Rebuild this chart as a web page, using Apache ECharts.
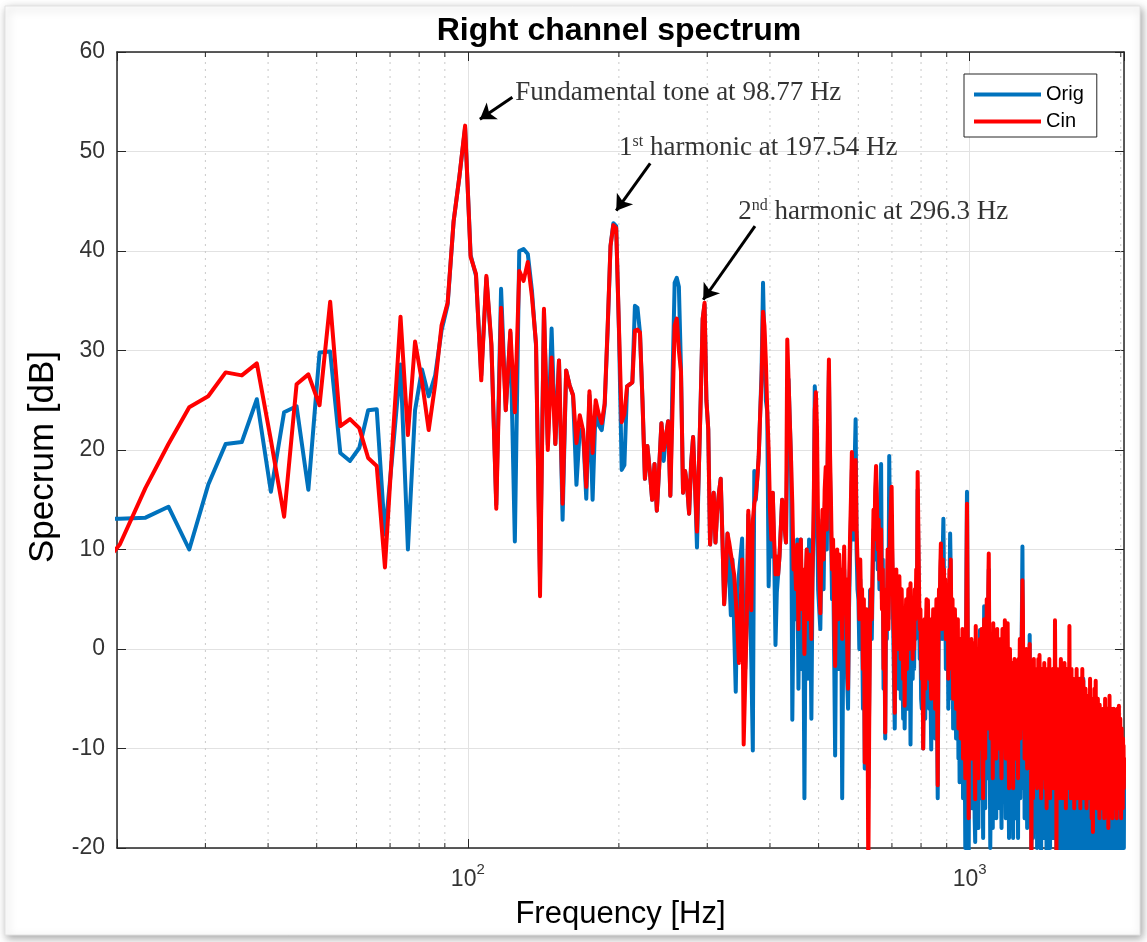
<!DOCTYPE html>
<html>
<head>
<meta charset="utf-8">
<script src="https://cdn.jsdelivr.net/npm/echarts@6/dist/echarts.min.js"></script>
<style>
  html, body { margin: 0; padding: 0; background: #ffffff; }
  #chart { width: 1147px; height: 942px; }
</style>
</head>
<body>
<div id="chart"></div>
<script>
// ---------- DATA ----------
// FFT bin spacing: fundamental 98.77 Hz sits on bin 39
const BIN_HZ = 98.77 / 39;
const FIRST_BIN = 7;

// Orig (blue), bins 7..177  (~18 Hz .. ~448 Hz)
const origLow = [
  13.0, 13.1, 13.2, 14.3, 10.0, 16.5, 20.6, 20.8, 25.1, 15.8,
  23.8, 24.4, 16.0, 29.8, 29.9, 19.7, 18.9, 20.2, 24.0, 24.1,
  11.5, 20.0, 28.6, 10.0, 24.0, 28.1, 25.4, 27.5, 32.0, 34.6,
  43.0, 47.5, 52.4, 39.6, 37.5, 27.5, 37.3, 30.5, 14.5, 36.2,
  24.0, 31.8, 10.8, 40.0, 40.2, 39.7, 36.0, 30.5, 7.0, 34.0,
  20.5, 32.2, 20.6, 29.0, 13.0, 28.0, 26.5, 25.5, 16.5, 22.0,
  22.0, 15.1, 25.5, 15.0, 24.5, 22.5, 22.0, 24.5, 32.0, 40.5,
  42.8, 42.5, 32.0, 18.0, 18.5, 26.4, 26.6, 26.8, 34.5, 34.3,
  31.8, 25.0, 17.1, 20.4, 17.9, 15.0, 18.6, 13.9, 18.2, 22.7,
  18.9, 21.4, 22.9, 15.4, 27.0, 36.8, 37.3, 36.4, 28.2, 15.7,
  17.9, 16.4, 13.6, 18.6, 21.3, 16.4, 10.2, 18.2, 25.4, 33.2,
  34.6, 25.0, 22.1, 10.5, 13.9, 15.7, 10.7, 13.9, 15.7, 17.1,
  11.1, 4.5, 7.5, 11.6, 11.4, 3.4, 9.0, 2.1, -4.3, 5.7,
  7.5, 9.3, 11.1, 1.0, -2.0, 3.5, 13.5, 5.7, -1.4, -10.2,
  17.9, 15.0, 17.1, 19.3, 23.6, 28.0, 36.8, 30.0, 25.0, 23.9,
  6.3, 12.9, 9.3, 15.7, 10.0, 0.4, 5.7, 7.5, 9.3, 12.1,
  15.0, 13.6, 12.1, 10.7, 20.0, 27.1, 22.9, 18.9, -7.1, 5.0,
  8.0
];
// Orig (blue), bins 178..802  (~450 Hz .. ~2030 Hz)
const origHigh = [
  3, 11, -4, 8, 11, -2, 6, -15, 4, 10, -3, 11, 5, -7, 7, 12, 26.4, 24, 15, 6,
  6, 2, 9, 13, 6, 14, 17, 10, 20, 28, 18, 12, 5, 9, 0, -10.7, 3, 9, -2, 7, 2, 6, -15, 0,
  8, 2, 5, -3, -6, 4, 9, 13, 18, 15, 11, 19, 23.1, 10, 6, 5, 0, 7, 1, 3, -6, 2, -12, -1, 3, -6,
  -14, -5, 5.9, 4, 1, 7, 12, 9, 15, 17, 14, 8, 12, 6, 8, 18.6, 5, 9, -4, 3, -9, 4, 1, 9, 3, 19.4, 11, 8, 12,
  8, 2, -3, -8, 1, 6, -1, 3, -4, 5, 0, -5, 4, -1, -7, 2, -8, -2, 3, -6,
  1, 4, -4, 2, -9.6, 0, 3, -3, 2, -2, 4, 1, 6, 3, 16, 10, 4, -1, 2, -5,
  -6, 0, -10, -3, 1, -7, 0, 3, -5, 2, -2, -6, 1, -5, -10.1, -1, -4, 2, -6, 1,
  -9, -2, 3, -7, -15, -3, 4, 1, 6, 9, 4, 1, 10, 13.1, 7, 1, 5, -2, 3,
  0, 4, -6, 2, 6, 11.6, 8, 1, -5, 3, -8, 0, -4, 2, -3, -9, 0, -6, 1, -11,
  -2, -13.4, -1, -12, -3, -9, 0, -15, -6, -2, -10, -20, -5, 8, 15.8, 3, -9, -22, -8, -3,
  -6, -12, -1, -16, -9, -2, -11, -5, -17, -19.4, -1, -8, -14, -3, -10, -18, -4, -12, 1.9, -9,
  -15, -1, -7, -12, -19, -5, 4.3, -10, -16, -3, -8, 2, -13, -6, 3, 8, -2, -11, -20, -14,
  -4, -12, -8, -18, 0, -10, -3, -15, -7, -4, -17, -11, -1, -13, -6,
  -10, -3, -16, -7, -2, -13, -18, -6, -1, -11, -15, -4, -9, 0, -12, -17, -5, -3, -11, -1,
  -8, -14, -19, -10, -4, -13, -7, -18, -9, -5, -12, -19, -8, -15, -6, -10, -17, -7, -5, -12,
  -16, -8, -19, -6, -13, -9, -3, -15, -10, -2, 0, 5, 10.3, 2, -8, -14, -6, -17, -11, -7,
  -15, -4, -12, -18, -8, -13, -5, -16, -9, 1.4,
  -9, -17, -7, -20, -18, -6, -15, -19, -10, -5, -14, -18, -8, -12, -17, -6, -11, -20, -9, -15,
  -5, -13, -18, -4, -10, -16, -8, -21, -12, -6, -17, -11, -19, -9, -13, -5, -15, -10, -19, -7,
  -14, -22, -11, -6, -17, -12, -18, -9, -5, -14, -20, -10, -13, -18, -7, -16, -11, -6, -19, -12,
  -9, -17, -14, -1, -8, -18, -11, -21, -13, -6, -16, -19, -10, -15, -8, -22, -12, -17, -9, -5,
  -13, -7, -18, -10, -21, -6, -15, -9, -19, -5, -12, -17, -8, -22, -14, -6, -16, -11, -20, -7,
  -15, -19, -10, -2, -13, -18, -9, -21, -12, -6, -17, -14, -9, -20, -8, -16, -11, -22, -13, -12,
  -17, -8, -19, -12, -6, -21, -14, -10, -18, -3, -13, -20, -11, -16, -7, -22, -12, -17, -9, -19,
  -14, -6, -18, -11, -3, -21, -13, -10, -17, -20, -12, -8, -19, -14, -22, -11, -16, -9, -18, -13,
  -21, -10, -17, -12, -20, -8, -15, -19, -11, -16, -23, -13, -18, -10, -21, -14, -20, -11, -17, -9,
  -16, -21, -12, -8, -19, -14, -23, -11, -17, -20, -10, -22, -15, -12, -18, -24, -11, -16, -21, -13,
  -10, -19, -23, -14, -17, -12, -22, -18, -11, -20, -15, -24, -13, -18, -9, -22, -16, -14, -23, -12,
  -19, -15, -10, -21, -17, -25, -13, -16, -22, -8, -14, -20, -12, -23, -16, -21, -10, -18, -15, -24,
  -13, -19, -22, -14, -11, -20, -17, -23, -13, -18, -12, -22, -15, -19, -24, -14, -16, -11, -21, -18,
  -23, -13, -10, -20, -15, -22, -17, -12, -21, -14, -24, -18, -13, -22, -15, -19, -23, -14, -17, -12,
  -20, -13
];

// Cin (red), bins 7..177
const cinLow = [
  7.0, 10.5, 16.2, 20.6, 24.3, 25.4, 27.8, 27.5, 28.7, 21.0,
  13.3, 26.6, 27.6, 24.5, 34.9, 22.4, 23.1, 22.2, 19.2, 18.4,
  8.2, 21.3, 33.4, 21.5, 30.9, 26.9, 22.0, 26.6, 32.5, 34.8,
  43.0, 47.5, 52.6, 39.4, 37.7, 27.0, 37.5, 30.7, 14.1, 34.3,
  24.0, 32.0, 23.8, 38.0, 37.0, 38.9, 35.4, 30.7, 5.3, 34.2,
  20.0, 29.3, 20.6, 29.0, 14.6, 28.0, 26.5, 25.5, 20.7, 23.5,
  22.0, 16.3, 25.9, 19.7, 25.0, 23.6, 22.7, 24.7, 32.3, 40.5,
  42.6, 42.3, 32.3, 22.8, 23.6, 26.4, 26.6, 26.8, 32.0, 32.1,
  31.8, 25.0, 17.1, 20.4, 17.9, 15.0, 18.6, 13.9, 18.2, 22.7,
  20.0, 21.4, 22.9, 15.4, 24.0, 32.5, 33.2, 30.0, 27.9, 15.7,
  17.9, 16.4, 13.6, 18.6, 21.3, 16.4, 11.8, 18.2, 25.4, 33.2,
  34.8, 25.0, 22.1, 10.5, 13.9, 15.7, 10.7, 13.9, 15.7, 17.1,
  11.1, 4.5, 7.5, 11.6, 10.7, 9.6, 9.6, 7.5, 5.0, 2.1,
  -1.4, 3.9, 9.0, -9.6, -3.2, 2.9, 13.9, 9.3, 3.9, 12.9,
  14.6, 15.4, 17.1, 19.3, 23.6, 27.0, 33.9, 32.5, 28.9, 23.9,
  20.0, 13.9, 11.0, 15.7, 11.0, 7.5, 9.3, 7.5, 9.3, 12.1,
  15.0, 13.6, 12.1, 10.7, 31.1, 27.1, 22.9, 18.9, 14.6, 8.0,
  10.0
];
// Cin (red), bins 178..802
const cinHigh = [
  6, 10.5, 2, 9, 11, 4, 8, -0.5, 7, 10, 3, 9.5, 6, 1, 8, 14, 24, 25.8, 22, 12,
  8, 3.6, 10, 14, 9, 16, 18.3, 12, 22, 29.1, 20, 14.6, 8, 11, 4, -1.7, 6, 10, 3, 9.5, 5, 8, 1, 6,
  10.3, 4, 7, 1, -4, 6, 11, 15, 19.8, 16, 12, 17, 19, 12, 9, 7.6, 3, 9, 4, 6, -2, 5, -11.4, 2, 4, -3,
  -23, -8, 2, 6, 3, 8.9, 14, 11, 16, 18.4, 15, 10, 13, 7, 9, 12, 4, 8, -2, 5, -8.4, 6, 3, 10, 2, 7, 12, 14, 16.3,
  10, 4, 1, -6.4, 3, 8, 2, 5, 0, 7.3, 3, -1, 6, 2, -3, 4, -5.7, 1, 5, -2,
  3, 6, 0, 4, 6.6, 2, 5, -1, 4, 0, 6, 3, 8, 5, 17.8, 12, 6, 2, 4, -1,
  -3, 2, -10, 0, 3, -4, 2, 5, -1, 4.9, 1, -3, 3, -2, -5, 2, 0, 4, -2, 3,
  -6, 1, 5, -4, -13.7, 0, 6, 3, 8, 10.6, 5, 2, 9, 6, 8, 3, 7, 1, 5,
  2, 6, -3, 4, 8, 1, 9, 3, -2, 5, -5, 2, -1, 4, -0.7, -6, 2, -3, 3, -8,
  0, -4, 1, -9, 0, -5, 2, -11, -3, 0, -7, -13, -2, 6, 14.6, 5, -6, -17, -4, 0,
  -3, -8, 1, -11, -5, 0.6, -7, -2, -12, -15.1, 2.3, -4, -9, 0, -6, -13, -1, -8, 1, -5,
  -10, 2, -3, -7, -15, -2, 3, -6, -11, 0, -4, 5, -8, -2, 6, 9.6, 1, -6, -3, -9,
  0, -7, -4, -13, 2.6, -5, 1, -9, -3, 0, -11, -6, 2, -8, -2,
  -6, 0, -10, -3, 1, -8, -13, -2, 2, -5, -9, 0, -4, 2.9, -7, -11, -1, 1, -6, 2.6,
  -3, -9, -14, -5, 0, -8, -2, -12, -4, -1.4, -7, -14, -3, -9, -1, -5, -11, -2, -1.4, -6,
  -10, -3, -13, -1, -7, -4, 1, -9, -5, 0, -2, 3, 6.9, 4, -3, -8, -1, -11, -5, -2,
  -9, 0, -6, -12, -3, -7, -1, -10, -4, 0.5,
  -5, -12, -3, -24, -8, -2, -10, -15, -4, -1, -9, -13, -3, -7, -11, -2, -6, -14, -4, -9,
  -1, -8, -12, -0.6, -5, -10, -3, -15, -7, -2, -11, -6, -13, -4, -8, -1.4, -10, -5, -14, -3,
  -9, -16, -6, -2, -11, -7, -13, -4, -1, -9, -15, -5, -8, -12, -3, -10, -6, -2, -14, -7,
  -4, -11, -9, 2.9, -3, -12, -6, -21, -8, -2, -10, -13, -5, -9, -3, -15, -7, -11, -4, -1,
  -8, -3, -12, -6, -15, -2, -9, -5, -13, -1.4, -7, -11, -4, -16, -8, -2, -10, -6, -14, -3,
  -9, -13, -5, 2.3, -8, -11, -4, -15, -7, -2, -12, -9, -5, -14, -3, -10, -6, -16, -8, -6.4,
  -11, -4, -13, -7, -2, -15, -9, -5, -12, -3.4, -8, -14, -6, -10, -3, -16, -7, -11, -4, -13,
  -9, -2, -12, -6, -3.2, -15, -8, -5, -11, -14, -7, -4, -13, -9, -16, -6, -10, -4.7, -12, -8,
  -15, -5, -11, -7, -14, -3, -9, -13, -6, -10, -17, -8, -12, -5, -18.4, -9, -14, -6, -11, -4,
  -10, -14, -7, -3.2, -12, -8, -16, -6, -11, -13, -5, -15, -9, -7, -12, -17, -5.6, -10, -14, -8,
  -6, -13, -16, -9, -11, -7, -15, -12, -6, -14, -10, -17, -8, -12, -5, -15, -11, -9, -16, -7,
  -13, -10, -6, -14, -12, -18, -8, -11, -15, -4.7, -9, -13, -7, -16, -11, -14, -6, -12, -10, -17,
  -8, -13, -15, -9, -6, -14, -11, -16, -8, -12, -7, -15, -10, -13, -17, -9, -11, -6, -14, -12,
  -16, -8, -5.7, -13, -10, -15, -11, -7, -14, -9, -17, -12, -8, -15, -10, -13, -16, -9, -12, -9.7,
  -14, -11
];

// Axes, ticks, annotations
const X_MIN = 20, X_MAX = 2030;
const Y_MIN = -20, Y_MAX = 60, Y_STEP = 10;
const xLabelExponents = [2, 3];
const minorFreqs = [30, 40, 50, 60, 70, 80, 90, 200, 300, 400, 500, 600, 700, 800, 900, 2000];
const annotationLabels = [
  'Fundamental tone at 98.77 Hz',
  '1{sup|st} harmonic at 197.54 Hz',
  '2{sup|nd} harmonic at 296.3 Hz'
];
const annotationAnchors = [[124.0, 55.9], [199.7, 50.35], [344.9, 43.9]];
const arrowTails = [[122.7, 55.45], [230.9, 48.8], [373.4, 42.5]];
const arrowHeads = [[105.7, 53.24], [197.6, 44.05], [294.5, 35.1]];

// ---------- BUILD ----------
const origDb = origLow.concat(origHigh);
const cinDb = cinLow.concat(cinHigh);
const toPairs = arr => arr.map((v, i) => [(FIRST_BIN + i) * BIN_HZ, v]);

const SANS = "'Liberation Sans', Arial, Helvetica, sans-serif";
const SERIF = "'Liberation Serif', 'Times New Roman', serif";
const AXIS_COLOR = '#262626';

const chart = echarts.init(document.getElementById('chart'), null, { renderer: 'canvas' });

const option = {
  animation: false,
  backgroundColor: '#ffffff',
  title: {
    text: 'Right channel spectrum',
    left: 614,
    top: 10,
    textAlign: 'center',
    textStyle: { fontFamily: SANS, fontWeight: 'bold', fontSize: 32, color: '#000' }
  },
  graphic: [{
    type: 'rect', z: -100, silent: true,
    shape: { x: 5, y: 6, width: 1135, height: 929 },
    style: { fill: '#fff', stroke: '#e2e2e2', lineWidth: 1, shadowBlur: 8, shadowOffsetX: 2, shadowOffsetY: 3, shadowColor: 'rgba(0,0,0,0.35)' }
  }],
  legend: {
    data: ['Orig', 'Cin'],
    orient: 'vertical',
    left: 964,
    top: 74,
    icon: 'rect',
    itemWidth: 67,
    itemHeight: 4,
    itemGap: 6,
    padding: [10, 13, 5, 10],
    borderColor: AXIS_COLOR,
    borderWidth: 1,
    backgroundColor: '#fff',
    selectedMode: false,
    textStyle: { fontFamily: SANS, fontSize: 20, color: '#000', lineHeight: 21 }
  },
  grid: { left: 117, right: 23, top: 52, bottom: 94, containLabel: false, outerBoundsMode: 'none' },
  xAxis: [{
    type: 'log', logBase: 10, min: X_MIN, max: X_MAX, position: 'bottom',
    name: 'Frequency [Hz]', nameLocation: 'middle', nameGap: 51,
    nameTextStyle: { fontFamily: SANS, fontSize: 31, color: '#000' },
    axisLine: { show: true, onZero: false, lineStyle: { color: AXIS_COLOR, width: 1.5 } },
    axisTick: { show: true, inside: true, length: 9, lineStyle: { color: AXIS_COLOR } },
    axisLabel: {
      margin: 14, color: '#333', fontFamily: SANS,
      formatter: function (v) {
        const l = Math.log10(v), r = Math.round(l);
        if (Math.abs(l - r) < 1e-6 && xLabelExponents.indexOf(r) >= 0) return '{b|10}{s|' + r + '}';
        return '';
      },
      rich: {
        b: { fontFamily: SANS, fontSize: 23, color: '#333', lineHeight: 29, verticalAlign: 'bottom' },
        s: { fontFamily: SANS, fontSize: 15, color: '#333', lineHeight: 29, verticalAlign: 'top' }
      }
    },
    splitLine: { show: true, lineStyle: { color: '#e2e2e2', width: 1 } },
    minorTick: { show: false }
  }, {
    type: 'log', logBase: 10, min: X_MIN, max: X_MAX, position: 'top',
    axisLine: { show: true, onZero: false, lineStyle: { color: AXIS_COLOR, width: 1.5 } },
    axisTick: { show: true, inside: true, length: 9, lineStyle: { color: AXIS_COLOR } },
    axisLabel: { show: false },
    splitLine: { show: false }
  }],
  yAxis: [{
    type: 'value', min: Y_MIN, max: Y_MAX, interval: Y_STEP, position: 'left',
    name: 'Specrum [dB]', nameLocation: 'middle', nameGap: 50,
    nameTextStyle: { fontFamily: SANS, fontSize: 35, color: '#000', padding: [0, 14, 0, 0] },
    axisLine: { show: true, onZero: false, lineStyle: { color: AXIS_COLOR, width: 1.5 } },
    axisTick: { show: true, inside: true, length: 9, lineStyle: { color: AXIS_COLOR } },
    axisLabel: { margin: 12, fontFamily: SANS, fontSize: 23, color: '#333' },
    splitLine: { show: true, lineStyle: { color: '#e2e2e2', width: 1 } }
  }, {
    type: 'value', min: Y_MIN, max: Y_MAX, interval: Y_STEP, position: 'right',
    axisLine: { show: true, onZero: false, lineStyle: { color: AXIS_COLOR, width: 1.5 } },
    axisTick: { show: true, inside: true, length: 9, lineStyle: { color: AXIS_COLOR } },
    axisLabel: { show: false },
    splitLine: { show: false }
  }],
  series: [
    {
      name: 'minor-grid', type: 'custom', xAxisIndex: 0, yAxisIndex: 0, z: 1, silent: true,
      data: minorFreqs.map(f => [f, 0]),
      renderItem: function (params, api) {
        const f = api.value(0);
        const top = api.coord([f, Y_MAX]);
        const bot = api.coord([f, Y_MIN]);
        return {
          type: 'group',
          children: [
            { type: 'line', shape: { x1: bot[0], y1: bot[1], x2: top[0], y2: top[1] },
              style: { stroke: '#c9c9c9', lineWidth: 1, lineDash: [2, 5] } },
            { type: 'line', shape: { x1: bot[0], y1: bot[1], x2: bot[0], y2: bot[1] - 5 },
              style: { stroke: AXIS_COLOR, lineWidth: 1 } },
            { type: 'line', shape: { x1: top[0], y1: top[1], x2: top[0], y2: top[1] + 5 },
              style: { stroke: AXIS_COLOR, lineWidth: 1 } }
          ]
        };
      }
    },
    {
      name: 'Orig', type: 'line', xAxisIndex: 0, yAxisIndex: 0, z: 3,
      data: toPairs(origDb), symbol: 'none', showSymbol: false, clip: true,
      itemStyle: { color: '#0072BD' },
      lineStyle: { color: '#0072BD', width: 4, join: 'round', cap: 'round' },
      emphasis: { disabled: true }
    },
    {
      name: 'Cin', type: 'line', xAxisIndex: 0, yAxisIndex: 0, z: 4,
      data: toPairs(cinDb), symbol: 'none', showSymbol: false, clip: true,
      itemStyle: { color: '#FF0000' },
      lineStyle: { color: '#FF0000', width: 4, join: 'round', cap: 'round' },
      emphasis: { disabled: true }
    },
    {
      name: 'annotations', type: 'scatter', xAxisIndex: 0, yAxisIndex: 0, z: 6, silent: true,
      symbolSize: 1, itemStyle: { color: 'rgba(0,0,0,0)' },
      data: annotationAnchors.map((p, i) => ({ value: p, label: { formatter: annotationLabels[i] } })),
      label: {
        show: true, position: 'right', distance: 0,
        fontFamily: SERIF, fontSize: 27, color: '#000',
        rich: {
          sup: { fontFamily: SERIF, fontSize: 16, color: '#000', verticalAlign: 'top', lineHeight: 29 }
        }
      },
      markLine: {
        silent: true, animation: false,
        symbol: ['none', 'arrow'], symbolSize: 15,
        label: { show: false },
        lineStyle: { color: '#000', width: 3, type: 'solid' },
        emphasis: { disabled: true },
        data: arrowTails.map((t, i) => [{ coord: t }, { coord: arrowHeads[i] }])
      }
    }
  ]
};
chart.setOption(option);
</script>
</body>
</html>
